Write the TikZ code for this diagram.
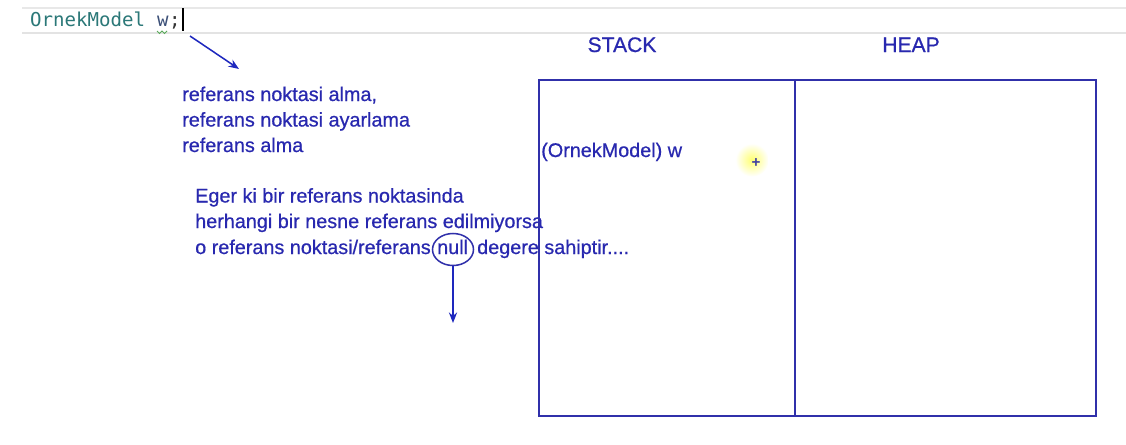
\documentclass[tikz,border=0pt]{standalone}
\usepackage{fontspec}
\setmainfont{Liberation Sans}
\newfontfamily\lblfont[FakeBold=0.6]{Liberation Sans}
\newfontfamily\codefont{DejaVu Sans Mono}
\usetikzlibrary{arrows.meta,shapes.geometric}
\definecolor{inkblue}{RGB}{40,40,175}
\definecolor{lineblue}{RGB}{48,48,170}
\definecolor{arrowblue}{RGB}{30,40,190}
\definecolor{codeteal}{RGB}{43,120,120}
\definecolor{codevar}{RGB}{60,80,120}
\definecolor{squig}{RGB}{90,170,90}
\tikzset{
  txt/.style={inner sep=0pt, text=inkblue, font=\lblfont\fontsize{16.9pt}{21pt}\selectfont, anchor=base west},
  hdr/.style={inner sep=0pt, text=inkblue, font=\lblfont\fontsize{18pt}{21pt}\selectfont, anchor=base},
  code/.style={inner sep=0pt, font=\codefont\fontsize{16.3pt}{20pt}\selectfont, anchor=base west},
  arr/.style={draw=arrowblue, line width=1.3pt, -{Stealth[length=9pt,width=7pt]}},
  frame/.style={draw=lineblue, line width=1.6pt},
  ring/.style={draw=lineblue, line width=1.3pt, ellipse, inner sep=0pt, minimum width=1.23cm, minimum height=0.96cm}
}
\begin{document}
\begin{tikzpicture}[x=0.03cm,y=-0.03cm]
\useasboundingbox (0,0) rectangle (1126,444);
\fill[white] (0,0) rectangle (1126,444);
% editor lines
\draw[gray!18, line width=1.4pt] (22,8) -- (1126,8);
\draw[gray!22, line width=1.6pt] (22,33) -- (1126,33);
% code
\node[code, text=codeteal] (cls) at (30,26) {OrnekModel};
\node[code, text=codevar, anchor=base west] (var) at (cls.base east) {\ w};
\node[code, text=black!80, anchor=base west] (semi) at (var.base east) {;};
\draw[black, line width=1pt] (183,8) -- (183,31);
\draw[squig, line width=0.8pt] (157,31) -- (159.5,33.5) -- (162,31) -- (164.5,33.5) -- (167,31);
% arrow from code
\coordinate (a1s) at (190,36);
\coordinate (a1e) at (239,69);
\draw[arr] (a1s) -- (a1e);
% first block
\node[txt] (r1) at (182,101) {referans noktasi alma,};
\node[txt] (r2) at (182,126.5) {referans noktasi ayarlama};
\node[txt] (r3) at (182,152) {referans alma};
% second block
\node[txt] (e1) at (195,202.5) {Eger ki bir referans noktasinda};
\node[txt] (e2) at (195,228) {herhangi bir nesne referans edilmiyorsa};
\node[txt] (e3) at (195,254) {o referans noktasi/referans};
\node[txt] (e4) at (437,254) {null};
\node[txt] (e5) at (477,254) {degere sahiptir....};
\node[ring] (nullring) at (453,249.5) {};
\coordinate (nullend) at (453,323);
\draw[arr] (nullring.south) -- (nullend);
% stack / heap
\node[hdr] (stack) at (622,52) {STACK};
\node[hdr] (heap) at (911,52) {HEAP};
\draw[frame] (539,80) rectangle (1096,416);
\draw[frame] (795,80) -- (795,416);
\node[txt] (w) at (541,157) {(OrnekModel) w};
% highlight cursor
\shade[inner color=yellow!55, outer color=white] (752,160) circle (0.5cm);
\node[inner sep=0pt, text=inkblue!70!gray, font=\bfseries\fontsize{13pt}{13pt}\selectfont] (plus) at (756,163) {+};
\end{tikzpicture}
\end{document}
